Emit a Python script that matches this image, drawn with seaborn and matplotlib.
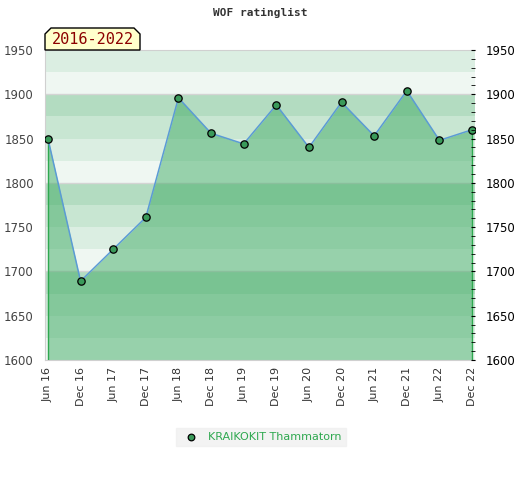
import numpy as np
import pandas as pd
import matplotlib
matplotlib.use("Agg")
import matplotlib.pyplot as plt
from matplotlib.patches import Polygon
from matplotlib.ticker import MultipleLocator
import seaborn as sns

# data
periods = ["Jun 16", "Dec 16", "Jun 17", "Dec 17", "Jun 18", "Dec 18", "Jun 19",
           "Dec 19", "Jun 20", "Dec 20", "Jun 21", "Dec 21", "Jun 22", "Dec 22"]
ratings = [1850, 1689, 1725, 1761, 1896, 1856, 1844,
           1888, 1840, 1891, 1853, 1904, 1848, 1860]
player = "KRAIKOKIT Thammatorn"
badge = "2016-2022"

df = pd.DataFrame({"period": periods, "rating": ratings})
df["idx"] = np.arange(len(df))

sns.set_style("white")
plt.rcParams["font.family"] = ["DejaVu Sans"]

fig = plt.figure(figsize=(5.2, 4.8), dpi=100)
ax = fig.add_axes([45 / 520, 1 - 360 / 480, 430 / 520, 310 / 480])

ymin, ymax = 1600, 1950
band_cols = ["#b3dcc1", "#c8e6d2", "#dbeee2", "#eff7f2"]
for lo in range(ymin, ymax, 25):
    k = ((1900 - (lo + 25)) // 25) % 4
    ax.axhspan(lo, lo + 25, color=band_cols[k], lw=0, zorder=0)
for g in range(1700, 1950, 100):
    ax.axhline(g, color="#d4d4d4", lw=1, zorder=1)

ax.fill_between(df["idx"], df["rating"], ymin, color="#41ac65", alpha=0.5, lw=0, zorder=2)
ax.vlines([df["idx"].iloc[0], df["idx"].iloc[-1]], ymin,
          [df["rating"].iloc[0], df["rating"].iloc[-1]], color="#2ea84f", lw=1, zorder=3)
sns.lineplot(data=df, x="idx", y="rating", ax=ax, color="#5b9bd5", lw=1.1, zorder=4)
sns.scatterplot(data=df, x="idx", y="rating", ax=ax, color="#3a9a5a", edgecolor="black",
                s=28, linewidth=0.9, zorder=5, label=player, legend=False)

ax.set_xlim(-0.09, len(df) - 1 + 0.09)
ax.set_ylim(ymin, ymax)
ax.set_xticks(df["idx"])
ax.set_xticklabels(periods, rotation=90, fontsize=8, color="#333333")
ax.set_yticks(range(ymin, ymax + 1, 50))
ax.tick_params(axis="y", length=0, labelsize=8.5, labelcolor="#444444", pad=8)
ax.tick_params(axis="x", length=0, pad=5)
ax.set_xlabel("")
ax.set_ylabel("")
for s in ["left", "bottom", "top"]:
    ax.spines[s].set_color("#d0d0d0")
ax.spines["right"].set_visible(False)

ax2 = ax.twinx()
ax2.set_ylim(ymin, ymax)
ax2.set_yticks(range(ymin, ymax + 1, 50))
ax2.yaxis.set_minor_locator(MultipleLocator(10))
ax2.tick_params(axis="y", which="both", direction="in", length=3, color="black",
                labelsize=8.5, labelcolor="black", pad=8)
for s in ax2.spines.values():
    s.set_visible(False)

fig.text(0.5, 1 - 13 / 480, "WOF ratinglist", ha="center", va="center",
         family="DejaVu Sans Mono", fontweight="bold", fontsize=8, color="#333333")

# badge with cut top corners
W, H = 520, 480
x0, x1, y0, y1, c = 45, 140, 50, 28, 6
pts = [(x0, y0), (x0, y1 + c), (x0 + c, y1), (x1 - c, y1), (x1, y1 + c), (x1, y0)]
pts = [(px / W, 1 - py / H) for px, py in pts]
fig.patches.append(Polygon(pts, closed=True, facecolor="#ffffcc", edgecolor="black",
                           lw=1, transform=fig.transFigure, zorder=10))
fig.text((x0 + x1) / 2 / W, 1 - 40 / H, badge, ha="center", va="center",
         family="DejaVu Sans Mono", fontsize=11, color="#8b0000", zorder=11)

h, l = ax.get_legend_handles_labels()
leg = fig.legend(h, l, loc="center", bbox_to_anchor=(261 / W, 1 - 437 / H),
                 frameon=True, fontsize=8, handletextpad=0.5, borderpad=0.4,
                 fancybox=False, markerscale=0.9)
leg.get_frame().set_facecolor("#f0f0f0")
leg.get_frame().set_edgecolor("#f0f0f0")
for t in leg.get_texts():
    t.set_color("#2ea84f")

fig.savefig("out.png", dpi=100)
